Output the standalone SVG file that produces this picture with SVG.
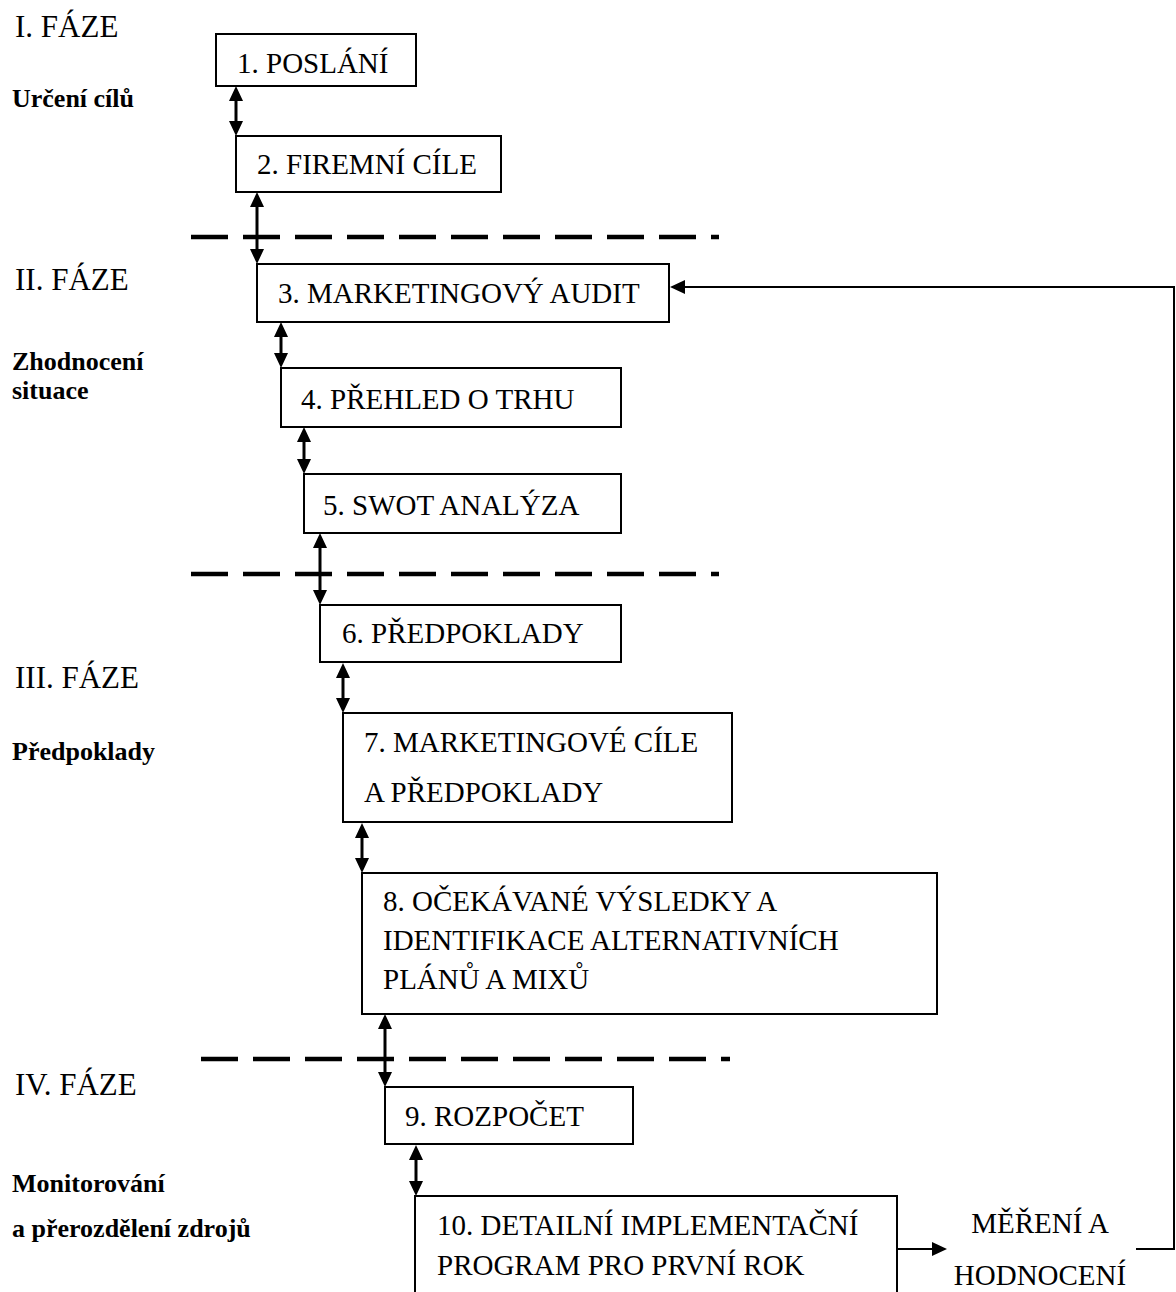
<svg xmlns="http://www.w3.org/2000/svg" width="1176" height="1292" viewBox="0 0 1176 1292">
<style>
.box{fill:#fff;stroke:#000;stroke-width:2}
.t{font-family:"Liberation Serif","Times New Roman",serif;font-size:29px;fill:#000}
.ph{font-family:"Liberation Serif","Times New Roman",serif;font-size:31px;fill:#000}
.lb{font-family:"Liberation Serif","Times New Roman",serif;font-size:26px;font-weight:bold;fill:#000}
.ar{fill:none;stroke:#000;stroke-width:3;marker-start:url(#ah);marker-end:url(#ah)}
.fb{fill:none;stroke:#000;stroke-width:2;marker-end:url(#ah)}
.dash{stroke:#000;stroke-width:4.5;stroke-dasharray:37 15;fill:none}
</style>
<defs>
<marker id="ah" markerUnits="userSpaceOnUse" markerWidth="15" markerHeight="14" refX="7" refY="7" orient="auto-start-reverse">
<path d="M0,0 L15,7 L0,14 z" fill="#000"/>
</marker>
</defs>
<rect width="1176" height="1292" fill="#fff"/>
<g id="phases">
<text class="ph" x="15" y="37">I. FÁZE</text>
<text class="lb" x="12" y="107">Určení cílů</text>
<text class="ph" x="15" y="290">II. FÁZE</text>
<text class="lb" x="12" y="370">Zhodnocení</text>
<text class="lb" x="12" y="399">situace</text>
<text class="ph" x="15" y="688">III. FÁZE</text>
<text class="lb" x="12" y="760">Předpoklady</text>
<text class="ph" x="15" y="1095">IV. FÁZE</text>
<text class="lb" x="12" y="1192">Monitorování</text>
<text class="lb" x="12" y="1237">a přerozdělení zdrojů</text>
</g>
<g id="dividers">
<line class="dash" x1="191" y1="237" x2="719" y2="237"/>
<line class="dash" x1="191" y1="574" x2="719" y2="574"/>
<line class="dash" x1="201" y1="1059" x2="730" y2="1059"/>
</g>
<g id="n1"><rect class="box" x="216" y="34" width="200" height="52"/><text class="t" x="237" y="73">1. POSLÁNÍ</text></g>
<g id="n2"><rect class="box" x="236" y="136" width="265" height="56"/><text class="t" x="257" y="174">2. FIREMNÍ CÍLE</text></g>
<g id="n3"><rect class="box" x="257" y="264" width="412" height="58"/><text class="t" x="278" y="303">3. MARKETINGOVÝ AUDIT</text></g>
<g id="n4"><rect class="box" x="281" y="368" width="340" height="59"/><text class="t" x="301" y="409">4. PŘEHLED O TRHU</text></g>
<g id="n5"><rect class="box" x="304" y="474" width="317" height="59"/><text class="t" x="323" y="515">5. SWOT ANALÝZA</text></g>
<g id="n6"><rect class="box" x="320" y="605" width="301" height="57"/><text class="t" x="342" y="643">6. PŘEDPOKLADY</text></g>
<g id="n7"><rect class="box" x="343" y="713" width="389" height="109"/><text class="t" x="364" y="752">7. MARKETINGOVÉ CÍLE</text><text class="t" x="364" y="802">A PŘEDPOKLADY</text></g>
<g id="n8"><rect class="box" x="362" y="873" width="575" height="141"/><text class="t" x="383" y="911">8. OČEKÁVANÉ VÝSLEDKY A</text><text class="t" x="383" y="950">IDENTIFIKACE ALTERNATIVNÍCH</text><text class="t" x="383" y="989">PLÁNŮ A MIXŮ</text></g>
<g id="n9"><rect class="box" x="385" y="1087" width="248" height="57"/><text class="t" x="405" y="1126">9. ROZPOČET</text></g>
<g id="n10"><rect class="box" x="415" y="1196" width="482" height="110"/><text class="t" x="437" y="1235">10. DETAILNÍ IMPLEMENTAČNÍ</text><text class="t" x="437" y="1275">PROGRAM PRO PRVNÍ ROK</text></g>
<g id="n11"><text class="t" x="1040" y="1233" text-anchor="middle">MĚŘENÍ A</text><text class="t" x="1040" y="1285" text-anchor="middle">HODNOCENÍ</text></g>
<g id="connectors">
<line class="ar" x1="236" y1="94" x2="236" y2="128"/>
<line class="ar" x1="257" y1="200" x2="257" y2="256"/>
<line class="ar" x1="281" y1="330" x2="281" y2="360"/>
<line class="ar" x1="304" y1="435" x2="304" y2="466"/>
<line class="ar" x1="320" y1="541" x2="320" y2="597"/>
<line class="ar" x1="343" y1="671" x2="343" y2="705"/>
<line class="ar" x1="362" y1="831" x2="362" y2="865"/>
<line class="ar" x1="385" y1="1022" x2="385" y2="1079"/>
<line class="ar" x1="416" y1="1153" x2="416" y2="1188"/>
<path class="fb" d="M897,1249 H939"/>
<path class="fb" d="M1136,1249 H1174 V287 H678"/>
</g>
</svg>
